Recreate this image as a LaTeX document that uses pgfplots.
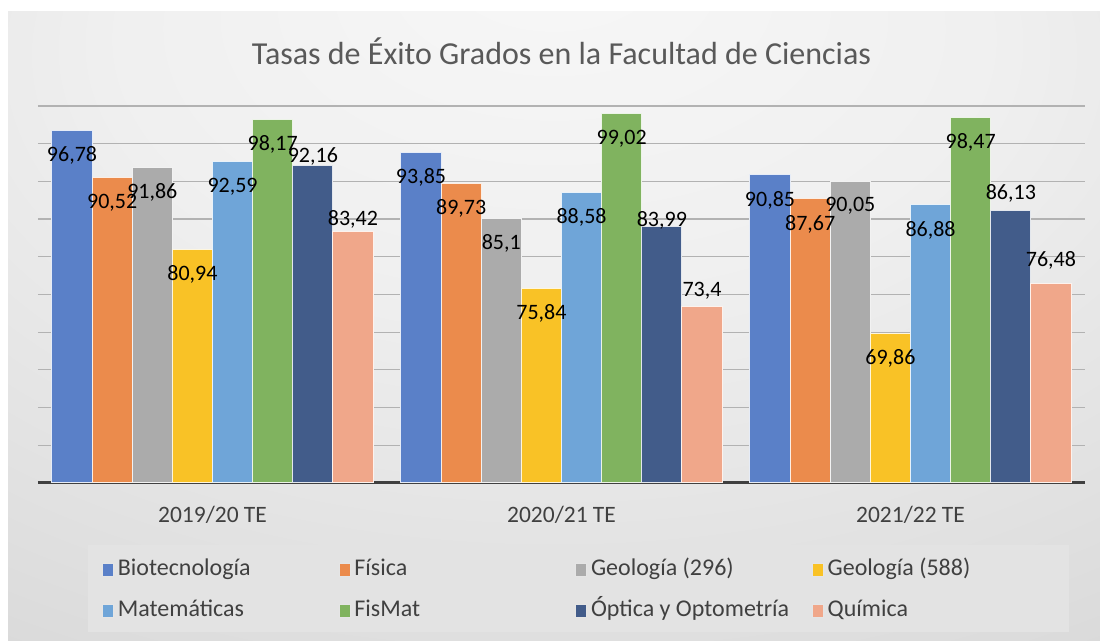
\documentclass[border=0pt]{standalone}
\usepackage{fontspec}
\setmainfont{Carlito}
\usepackage{pgfplots}
\usepackage{pgfplotstable}
\pgfplotsset{compat=1.18}

\definecolor{cBio}{HTML}{5A80C8}
\definecolor{cFis}{HTML}{EB8B4C}
\definecolor{cGeoA}{HTML}{ABABAB}
\definecolor{cGeoB}{HTML}{F9C226}
\definecolor{cMat}{HTML}{6FA5D8}
\definecolor{cFM}{HTML}{80B35F}
\definecolor{cOpt}{HTML}{425C8A}
\definecolor{cQui}{HTML}{F0A78A}
\definecolor{txt}{HTML}{404040}
\definecolor{ttl}{HTML}{595959}

\pgfdeclareradialshading{bgshade}{\pgfpoint{0bp}{30bp}}{%
  color(0bp)=(white!97!black);
  color(20bp)=(white!94!black);
  color(45bp)=(white!86!black);
  color(60bp)=(white!80!black);
  color(85bp)=(white!78!black)}

\pgfplotstableread{
x bio fis geoa geob mat fm opt optoff qui quioff
0 96.78 90.52 91.86 80.94 92.59 98.17 92.16 4.5 83.42 6
1 93.85 89.73 85.1 75.84 88.58 99.02 83.99 3 73.4 8
2 90.85 87.67 90.05 69.86 86.88 98.47 86.13 8.5 76.48 11.5
}\datatab

\begin{document}
\begin{tikzpicture}
\fill[white] (0pt,0pt) rectangle (550pt,320.5pt);
\shade[shading=bgshade] (4pt,0pt) rectangle (550pt,314.5pt);
\fill[white!89!black] (44pt,4.5pt) rectangle (534.5pt,48pt);
\begin{axis}[
  at={(19pt,79pt)}, anchor=south west,
  scale only axis, width=523.5pt, height=188.5pt,
  xmin=-0.5, xmax=2.5, ymin=50, ymax=100,
  ybar=0pt, bar width=0.115,
  xtick={0,1,2},
  xticklabels={2019/20 TE,2020/21 TE,2021/22 TE},
  xticklabel style={font=\fontsize{11.75}{14}\selectfont, color=txt, anchor=center, yshift=-11.5pt},
  ytick={55,60,...,100}, yticklabels={},
  ymajorgrids, grid style={line width=0.6pt, color=white!70!black},
  axis x line*=bottom, axis y line*=left,
  y axis line style={draw=none},
  x axis line style={line width=1.5pt, color=txt},
  tick style={draw=none},
  /pgf/number format/assume math mode=true,
  /pgf/number format/use comma,
  legend image code/.code={\draw[#1, draw=white!80!gray, line width=0.3pt] (0pt,-3.3pt) rectangle (5.5pt,3.3pt);},
  legend columns=4,
  legend cell align=left,
  legend style={at={(axis description cs:0.061,-0.189)}, anchor=north west,
    draw=none, fill=none, inner sep=0pt, row sep=5.5pt,
    nodes={text height=8.5pt, text depth=2.5pt},
    font=\fontsize{12}{14}\selectfont, text=txt},
  bars/.style={fill=#1, draw=white!85!#1, line width=0.5pt},
  inlab/.style={nodes near coords,
    every node near coord/.append style={font=\fontsize{11}{13}\selectfont, color=black, anchor=center, yshift=-12.5pt}},
]
\addplot[bars=cBio, inlab] table[x=x, y=bio] {\datatab};
\addlegendentry{\makebox[108.5pt][l]{Biotecnología}}
\addplot[bars=cFis, inlab] table[x=x, y=fis] {\datatab};
\addlegendentry{\makebox[108.5pt][l]{Física}}
\addplot[bars=cGeoA, inlab] table[x=x, y=geoa] {\datatab};
\addlegendentry{\makebox[108.5pt][l]{Geología (296)}}
\addplot[bars=cGeoB, inlab] table[x=x, y=geob] {\datatab};
\addlegendentry{\makebox[108.5pt][l]{Geología (588)}}
\addplot[bars=cMat, inlab] table[x=x, y=mat] {\datatab};
\addlegendentry{\makebox[108.5pt][l]{Matemáticas}}
\addplot[bars=cFM, inlab] table[x=x, y=fm] {\datatab};
\addlegendentry{\makebox[108.5pt][l]{FisMat}}
\addplot[bars=cOpt, nodes near coords,
  visualization depends on={\thisrow{optoff} \as \myoff},
  every node near coord/.append style={font=\fontsize{11}{13}\selectfont, color=black, anchor=center, yshift=\myoff pt}]
  table[x=x, y=opt] {\datatab};
\addlegendentry{\makebox[108.5pt][l]{Óptica y Optometría}}
\addplot[bars=cQui, nodes near coords,
  visualization depends on={\thisrow{quioff} \as \myoffq},
  every node near coord/.append style={font=\fontsize{11}{13}\selectfont, color=black, anchor=center, yshift=\myoffq pt}]
  table[x=x, y=qui] {\datatab};
\addlegendentry{\makebox[108.5pt][l]{Química}}
\end{axis}
\node[font=\fontsize{16}{19}\selectfont, color=ttl] at (280.75pt,295pt) {Tasas de Éxito Grados en la Facultad de Ciencias};
\end{tikzpicture}
\end{document}
